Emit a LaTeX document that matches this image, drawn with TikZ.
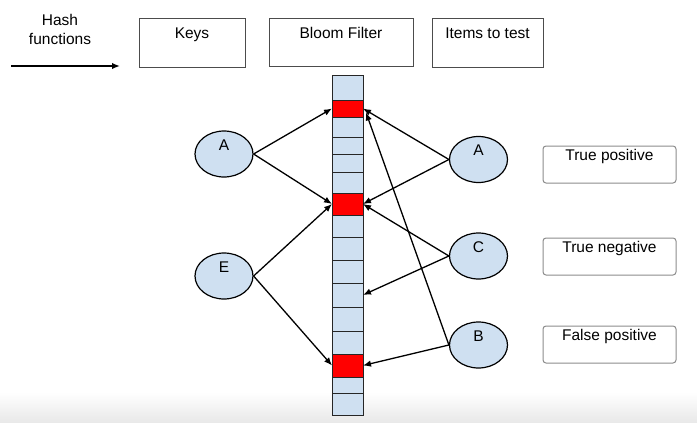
\documentclass[tikz,border=0pt]{standalone}
\usepackage{fontspec}
\setmainfont{Liberation Sans}
\usetikzlibrary{shapes.geometric,arrows.meta}
\definecolor{cellblue}{HTML}{CFE0F1}
\begin{document}
\begin{tikzpicture}[x=1pt,y=-1pt,font=\fontsize{15.5}{19}\selectfont,>={Latex[length=8pt,width=6.5pt]},head/.style={shape=rectangle,draw=black!70,line width=1pt,inner sep=0pt,text height=10pt,text depth=18pt},item/.style={shape=ellipse,draw=black,line width=1.2pt,fill=cellblue,minimum width=58pt,minimum height=46pt,inner sep=1pt,text height=10pt,text depth=18pt},cell/.style={shape=rectangle,draw=black!85,line width=1pt,minimum width=31pt,inner sep=0pt,outer sep=0pt,anchor=north},res/.style={shape=rectangle,rounded corners=3pt,draw=black!45,line width=1pt,minimum width=133pt,minimum height=37pt,inner sep=0pt,text height=10pt,text depth=19pt},hashto/.style={->,line width=1.3pt}]
\def\fx{347.5};
\def\rx{609.5};

\useasboundingbox (0,0) rectangle (697,423);
\shade[top color=white,bottom color=black!9] (0,392) rectangle (697,423);

\node[align=center] (hashtxt) at (60,29) {Hash\\functions};
\coordinate (hashS) at (11,66);
\coordinate (hashE) at (120,66);
\draw[hashto,line width=1.8pt] (hashS) -- (hashE);

\node[head,minimum width=106pt,minimum height=49pt] (keysH) at (192,42.5) {Keys};
\node[head,minimum width=144pt,minimum height=48pt] (filterH) at (341,42) {Bloom Filter};
\node[head,minimum width=111pt,minimum height=49pt] (testH) at (487.5,42.5) {Items to test};

\foreach \ya/\yb/\col [count=\i] in {75/100/cellblue,100/117/red,117/137/cellblue,137/154/cellblue,154/172/cellblue,172/193/cellblue,193/215/red,215/237/cellblue,237/260/cellblue,260/283/cellblue,283/307/cellblue,307/331/cellblue,331/354/cellblue,354/377/red,377/393/cellblue,393/415/cellblue}
  \node[cell,fill=\col,minimum height={\yb-\ya}] (c\i) at (\fx,\ya) {};

\node[item] (kA) at (224,154) {A};
\node[item] (kE) at (224,276) {E};
\draw[hashto] (kA.east) -- (c2.west);
\draw[hashto] (kA.east) -- (c7.west);
\draw[hashto] (kE.east) -- (c7.west);
\draw[hashto] (kE.east) -- (c14.west);

\node[item] (tA) at (478.5,159.5) {A};
\node[item] (tC) at (478.5,256) {C};
\node[item] (tB) at (478.5,345) {B};
\draw[hashto] (tA.west) -- (c2.east);
\draw[hashto] (tA.west) -- (c7.east);
\draw[hashto] (tC.west) -- (c7.east);
\draw[hashto] (tC.west) -- (c11.east);
\draw[hashto] (tB.west) -- (c14.east);
\draw[hashto] (tB.west) -- ([xshift=3pt,yshift=-4pt]c2.east);

\node[res] (rTP) at (\rx,164.5) {True positive};
\node[res] (rTN) at (\rx,256.5) {True negative};
\node[res] (rFP) at (\rx,344.5) {False positive};
\end{tikzpicture}
\end{document}
